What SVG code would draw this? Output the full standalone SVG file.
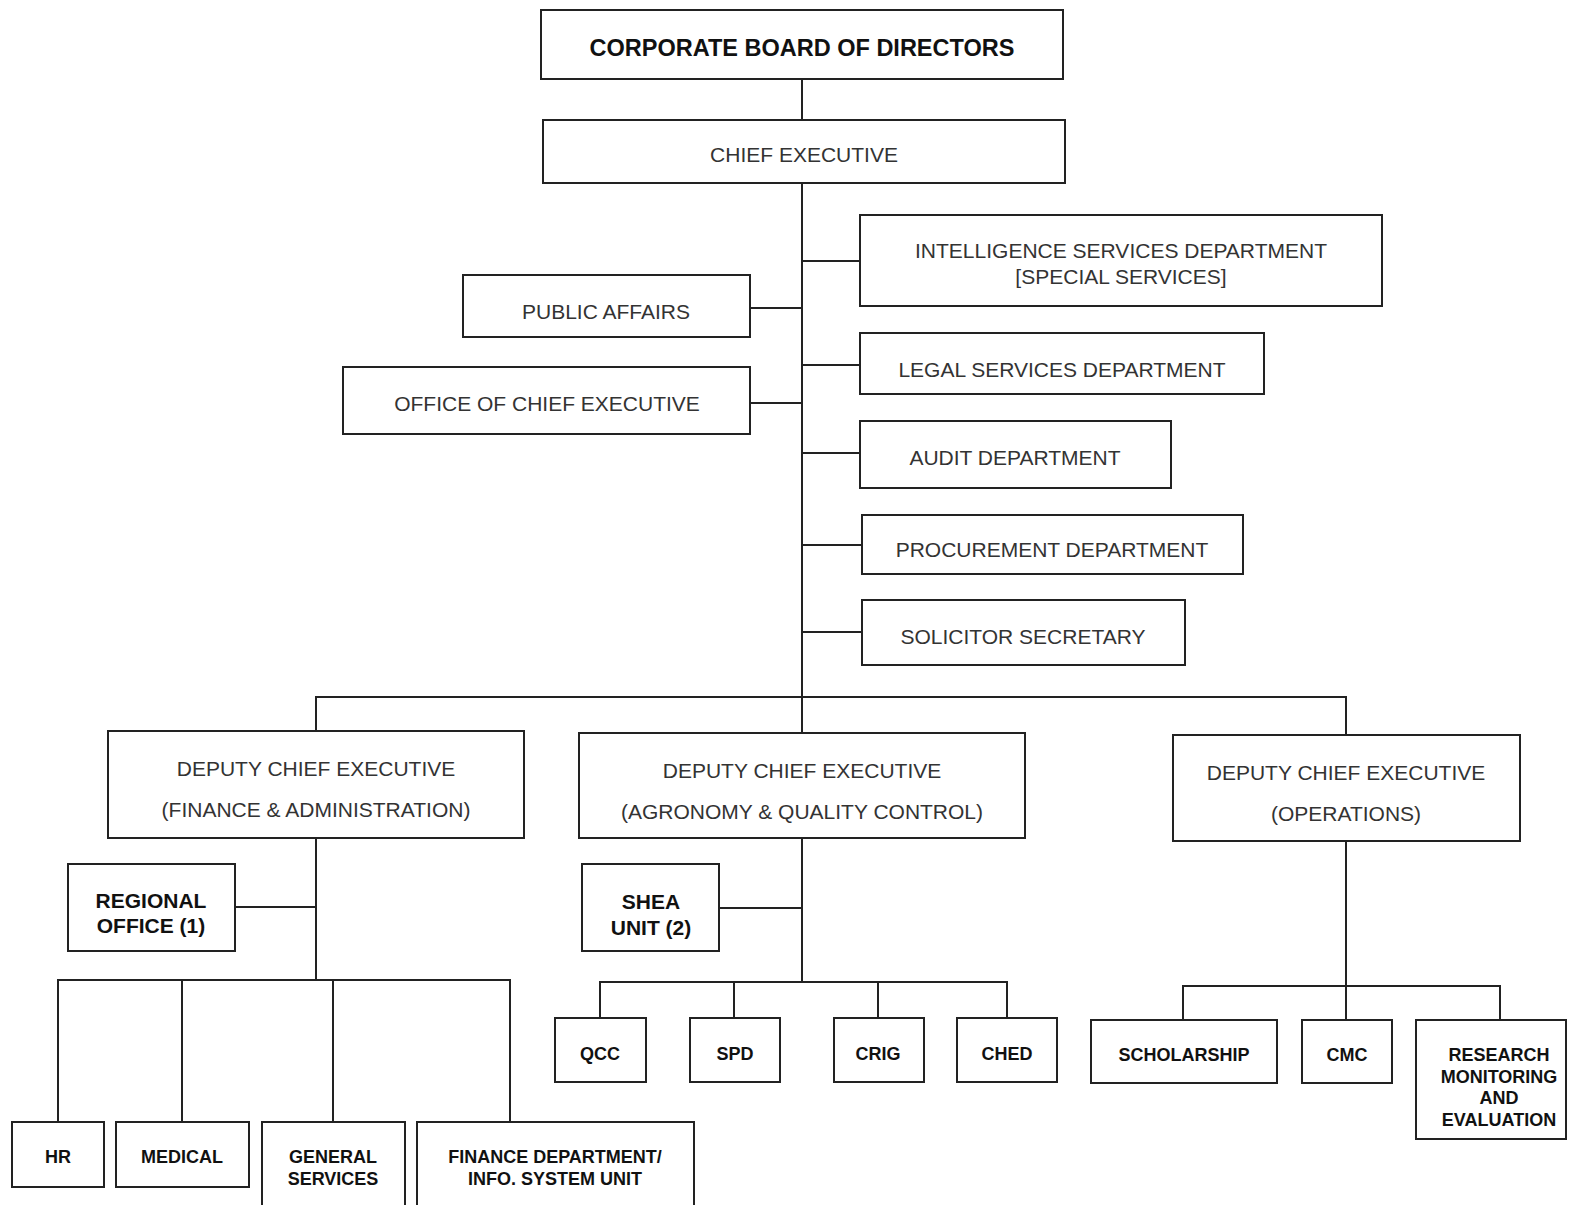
<svg xmlns="http://www.w3.org/2000/svg" width="1574" height="1205" viewBox="0 0 1574 1205">
<style>
rect{fill:#fff;stroke:#222;stroke-width:2}
.c line,.c polyline{stroke:#222;stroke-width:2;fill:none}
text{font-family:"Liberation Sans",Arial,sans-serif;text-anchor:middle}
.r{font-size:21px;fill:#333}
.b{font-weight:bold;fill:#111}
.b23{font-size:23.5px}
.b21{font-size:21px}
.b18{font-size:18px}
</style>
<rect x="0" y="0" width="1574" height="1205" style="fill:#fff;stroke:none"/>
<g class="c" id="connectors">
<line x1="802" y1="79" x2="802" y2="120"/>
<line x1="802" y1="183" x2="802" y2="697"/>
<line x1="802" y1="261" x2="860" y2="261"/>
<line x1="750" y1="308" x2="802" y2="308"/>
<line x1="802" y1="365" x2="860" y2="365"/>
<line x1="750" y1="403" x2="802" y2="403"/>
<line x1="802" y1="453" x2="860" y2="453"/>
<line x1="802" y1="545" x2="862" y2="545"/>
<line x1="802" y1="632" x2="862" y2="632"/>
<polyline points="316,731 316,697 1346,697 1346,735"/>
<line x1="802" y1="697" x2="802" y2="733"/>
<line x1="316" y1="838" x2="316" y2="980"/>
<line x1="235" y1="907" x2="316" y2="907"/>
<polyline points="58,1122 58,980 510,980 510,1122"/>
<line x1="182" y1="980" x2="182" y2="1122"/>
<line x1="333" y1="980" x2="333" y2="1122"/>
<line x1="802" y1="838" x2="802" y2="982"/>
<line x1="719" y1="908" x2="802" y2="908"/>
<polyline points="600,1018 600,982 1007,982 1007,1018"/>
<line x1="734" y1="982" x2="734" y2="1018"/>
<line x1="878" y1="982" x2="878" y2="1018"/>
<line x1="1346" y1="841" x2="1346" y2="1020"/>
<polyline points="1183,1020 1183,986 1500,986 1500,1020"/>
</g>
<g id="board"><rect x="541" y="10" width="522" height="69"/><text class="b b23" x="802" y="56">CORPORATE BOARD OF DIRECTORS</text></g>
<g id="chief-executive"><rect x="543" y="120" width="522" height="63"/><text class="r" x="804" y="162">CHIEF EXECUTIVE</text></g>
<g id="intelligence"><rect x="860" y="215" width="522" height="91"/><text class="r" x="1121" y="258">INTELLIGENCE SERVICES DEPARTMENT</text><text class="r" x="1121" y="284">[SPECIAL SERVICES]</text></g>
<g id="public-affairs"><rect x="463" y="275" width="287" height="62"/><text class="r" x="606" y="319">PUBLIC AFFAIRS</text></g>
<g id="legal"><rect x="860" y="333" width="404" height="61"/><text class="r" x="1062" y="377">LEGAL SERVICES DEPARTMENT</text></g>
<g id="office-ce"><rect x="343" y="367" width="407" height="67"/><text class="r" x="547" y="411">OFFICE OF CHIEF EXECUTIVE</text></g>
<g id="audit"><rect x="860" y="421" width="311" height="67"/><text class="r" x="1015" y="465">AUDIT DEPARTMENT</text></g>
<g id="procurement"><rect x="862" y="515" width="381" height="59"/><text class="r" x="1052" y="557">PROCUREMENT DEPARTMENT</text></g>
<g id="solicitor"><rect x="862" y="600" width="323" height="65"/><text class="r" x="1023" y="644">SOLICITOR SECRETARY</text></g>
<g id="dce-fa"><rect x="108" y="731" width="416" height="107"/><text class="r" x="316" y="776">DEPUTY CHIEF EXECUTIVE</text><text class="r" x="316" y="817">(FINANCE &amp; ADMINISTRATION)</text></g>
<g id="dce-aqc"><rect x="579" y="733" width="446" height="105"/><text class="r" x="802" y="778">DEPUTY CHIEF EXECUTIVE</text><text class="r" x="802" y="819">(AGRONOMY &amp; QUALITY CONTROL)</text></g>
<g id="dce-ops"><rect x="1173" y="735" width="347" height="106"/><text class="r" x="1346" y="780">DEPUTY CHIEF EXECUTIVE</text><text class="r" x="1346" y="821">(OPERATIONS)</text></g>
<g id="regional"><rect x="68" y="864" width="167" height="87"/><text class="b b21" x="151" y="908">REGIONAL</text><text class="b b21" x="151" y="933">OFFICE (1)</text></g>
<g id="shea"><rect x="582" y="864" width="137" height="87"/><text class="b b21" x="651" y="909">SHEA</text><text class="b b21" x="651" y="935">UNIT (2)</text></g>
<g id="hr"><rect x="12" y="1122" width="92" height="65"/><text class="b b18" x="58" y="1163">HR</text></g>
<g id="medical"><rect x="116" y="1122" width="133" height="65"/><text class="b b18" x="182" y="1163">MEDICAL</text></g>
<g id="general-services"><rect x="262" y="1122" width="143" height="95"/><text class="b b18" x="333" y="1163">GENERAL</text><text class="b b18" x="333" y="1185">SERVICES</text></g>
<g id="finance"><rect x="417" y="1122" width="277" height="95"/><text class="b b18" x="555" y="1163">FINANCE DEPARTMENT/</text><text class="b b18" x="555" y="1185">INFO. SYSTEM UNIT</text></g>
<g id="qcc"><rect x="555" y="1018" width="91" height="64"/><text class="b b18" x="600" y="1060">QCC</text></g>
<g id="spd"><rect x="690" y="1018" width="90" height="64"/><text class="b b18" x="735" y="1060">SPD</text></g>
<g id="crig"><rect x="834" y="1018" width="90" height="64"/><text class="b b18" x="878" y="1060">CRIG</text></g>
<g id="ched"><rect x="957" y="1018" width="100" height="64"/><text class="b b18" x="1007" y="1060">CHED</text></g>
<g id="scholarship"><rect x="1091" y="1020" width="186" height="63"/><text class="b b18" x="1184" y="1061">SCHOLARSHIP</text></g>
<g id="cmc"><rect x="1302" y="1020" width="90" height="63"/><text class="b b18" x="1347" y="1061">CMC</text></g>
<g id="rme"><rect x="1416" y="1020" width="150" height="119"/><text class="b b18" x="1499" y="1061">RESEARCH</text><text class="b b18" x="1499" y="1083">MONITORING</text><text class="b b18" x="1499" y="1104">AND</text><text class="b b18" x="1499" y="1126">EVALUATION</text></g>
</svg>
